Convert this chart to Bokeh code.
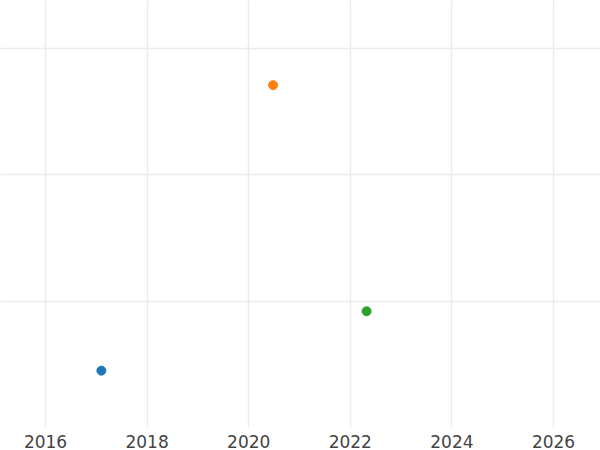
from bokeh.plotting import figure
from bokeh.models import ColumnDataSource, FixedTicker, Range1d, NumeralTickFormatter
from bokeh.embed import file_html
from bokeh.resources import INLINE

# Three observations: year (fractional) and value
years = [2017.10, 2020.48, 2022.32]
values = [0.45, 2.71, 0.92]
colors = ["#1f77b4", "#ff7f0e", "#2ca02c"]
x_ticks = [2016, 2018, 2020, 2022, 2024, 2026]
y_ticks = [1, 2, 3]

source = ColumnDataSource(data=dict(year=years, value=values, color=colors))

p = figure(
    width=600, height=450,
    output_backend="svg", toolbar_location=None,
    x_range=Range1d(2015.114, 2026.925),
    y_range=Range1d(0.0, 3.38),
    min_border=0,
)
p.outline_line_color = None
p.background_fill_color = "white"
p.border_fill_color = "white"

p.scatter("year", "value", source=source, color="color", size=9)

p.yaxis.visible = False
p.xaxis.ticker = FixedTicker(ticks=x_ticks)
p.xaxis.formatter = NumeralTickFormatter(format="0")
p.xaxis.axis_line_color = None
p.xaxis.major_tick_line_color = None
p.xaxis.minor_tick_line_color = None
p.xaxis.major_tick_out = 0
p.xaxis.major_tick_in = 0
p.xaxis.major_label_text_font = "DejaVu Sans"
p.xaxis.major_label_text_font_size = "17px"
p.xaxis.major_label_text_color = "#444444"
p.xaxis.major_label_standoff = 7

p.xgrid.ticker = FixedTicker(ticks=x_ticks)
p.ygrid.ticker = FixedTicker(ticks=y_ticks)
p.grid.grid_line_color = "#ebebeb"
p.grid.grid_line_width = 1.5

open("out.html", "w").write(file_html(p, INLINE))
